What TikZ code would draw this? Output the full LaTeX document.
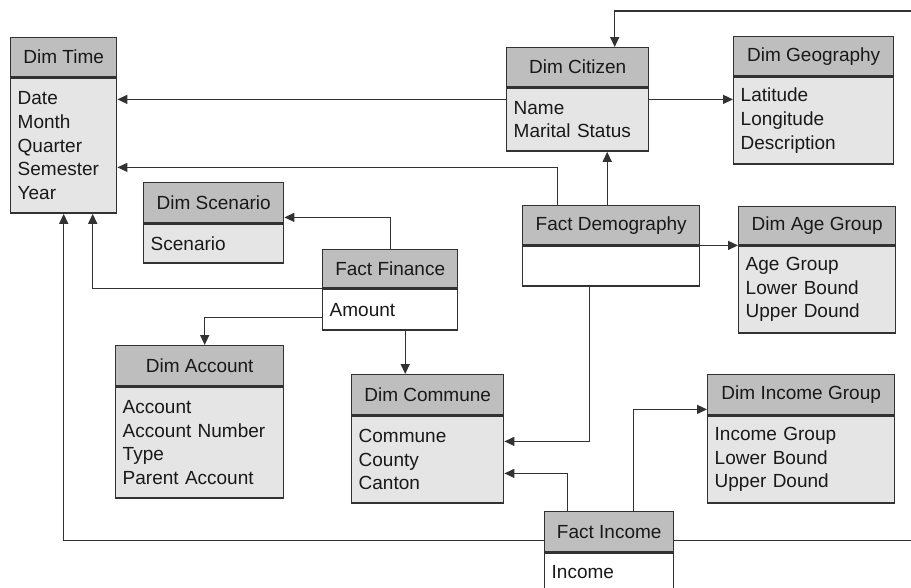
\documentclass[tikz,border=0pt]{standalone}
\usepackage{fontspec}
\setmainfont{Liberation Sans}
\usetikzlibrary{arrows.meta}
\definecolor{headgray}{RGB}{190,190,190}
\definecolor{bodygray}{RGB}{229,229,229}
\definecolor{edgegray}{RGB}{50,50,50}
\definecolor{txtgray}{RGB}{25,25,25}
\begin{document}
\begin{tikzpicture}[x=1pt, y=-1pt,
        head/.style={rectangle, draw=edgegray, line width=1.4pt, fill=headgray, anchor=north west, inner sep=0pt, text=txtgray, font=\fontsize{19pt}{23.7pt}\selectfont},
        body/.style={rectangle, draw=edgegray, line width=1.4pt, fill=bodygray, anchor=north west, inner xsep=7pt, inner ysep=0pt, align=left, text=txtgray, font=\fontsize{19pt}{23.7pt}\selectfont},
        factbody/.style={body, fill=white},
        link/.style={draw=edgegray, line width=1.4pt, -{Triangle[length=10pt, width=9pt]}}
    ]
        \useasboundingbox (0,0) rectangle (911,587);

        % dimension tables
        \node[head, minimum width=106pt, minimum height=39pt] (timeH) at (10,37) {Dim Time};
        \node[body, text width=92pt, minimum height=135pt] (timeB) at (timeH.south west) {Date\\Month\\Quarter\\Semester\\Year};

        \node[head, minimum width=142pt, minimum height=39pt] (citH) at (506,47) {Dim Citizen};
        \node[body, text width=128pt, minimum height=63pt] (citB) at (citH.south west) {Name\\Marital Status};

        \node[head, minimum width=160pt, minimum height=39pt] (geoH) at (733,36) {Dim Geography};
        \node[body, text width=146pt, minimum height=87pt] (geoB) at (geoH.south west) {Latitude\\Longitude\\Description};

        \node[head, minimum width=140pt, minimum height=40pt] (scnH) at (143,182) {Dim Scenario};
        \node[body, text width=126pt, minimum height=39pt] (scnB) at (scnH.south west) {Scenario};

        \node[head, minimum width=157pt, minimum height=38pt] (ageH) at (738,206) {Dim Age Group};
        \node[body, text width=143pt, minimum height=87pt] (ageB) at (ageH.south west) {Age Group\\Lower Bound\\Upper Dound};

        \node[head, minimum width=168pt, minimum height=40pt] (accH) at (115,345) {Dim Account};
        \node[body, text width=154pt, minimum height=111pt] (accB) at (accH.south west) {Account\\Account Number\\Type\\Parent Account};

        \node[head, minimum width=152pt, minimum height=40pt] (comH) at (351,374) {Dim Commune};
        \node[body, text width=138pt, minimum height=87pt] (comB) at (comH.south west) {Commune\\County\\Canton};

        \node[head, minimum width=187pt, minimum height=40pt] (igrH) at (707,374) {Dim Income Group};
        \node[body, text width=173pt, minimum height=87pt] (igrB) at (igrH.south west) {Income Group\\Lower Bound\\Upper Dound};

        % fact tables
        \node[head, minimum width=135pt, minimum height=38pt] (finH) at (322,249) {Fact Finance};
        \node[factbody, text width=121pt, minimum height=41pt] (finB) at (finH.south west) {Amount};

        \node[head, minimum width=177pt, minimum height=39pt] (demH) at (522,205) {Fact Demography};
        \node[factbody, text width=163pt, minimum height=40pt] (demB) at (demH.south west) {};

        \node[head, minimum width=129pt, minimum height=40pt] (incH) at (544,511) {Fact Income};
        \node[factbody, text width=115pt, minimum height=38pt] (incB) at (incH.south west) {Income};

        % connection points
        \coordinate (c1) at ([yshift=-12pt]citB.north west);
        \coordinate (c2) at ([yshift=-12pt]citB.north east);
        \coordinate (c3) at ([xshift=37pt]citH.north);
        \coordinate (c4) at ([yshift=12pt]incH.south east);
        \coordinate (c7) at ([yshift=6pt]scnH.south east);
        \coordinate (c9) at ([xshift=15pt]finB.south);
        \coordinate (c10) at ([xshift=-4pt]demH.north);
        \coordinate (c11) at ([xshift=-54pt]demH.north);
        \coordinate (c12) at ([yshift=-90pt]timeB.north east);
        \coordinate (c14) at ([xshift=-22pt]demB.south);
        \coordinate (c15) at ([yshift=-26pt]comB.north east);
        \coordinate (c16) at ([xshift=-42pt]incH.north);
        \coordinate (c17) at ([yshift=-58pt]comB.north east);
        \coordinate (c18) at ([xshift=24pt]incH.north);
        \coordinate (c19) at ([yshift=6pt]igrH.south west);

        % connectors
        \draw[link] (c1) -- (timeB.east |- c1);
        \draw[link] (c2) -- (geoB.west |- c2);
        \draw[link] (c4) -- ++(252pt,0) |- ([yshift=36pt]c3) -- (c3);
        \draw[link] ([yshift=12pt]incH.south west) -| (timeB.south);
        \draw[link] (finH.south west) -| ([xshift=29pt]timeB.south);
        \draw[link] (finH.north) |- (c7);
        \draw[link] ([yshift=-8pt]finB.west) -| ([xshift=5pt]accH.north);
        \draw[link] (c9) -- (c9 |- comH.north);
        \draw[link] (c10) -- (c10 |- citB.south);
        \draw[link] (c11) |- (c12);
        \draw[link] (demH.south east) -- (ageH.south west);
        \draw[link] (c14) |- (c15);
        \draw[link] (c16) |- (c17);
        \draw[link] (c18) |- (c19);
    \end{tikzpicture}
\end{document}
